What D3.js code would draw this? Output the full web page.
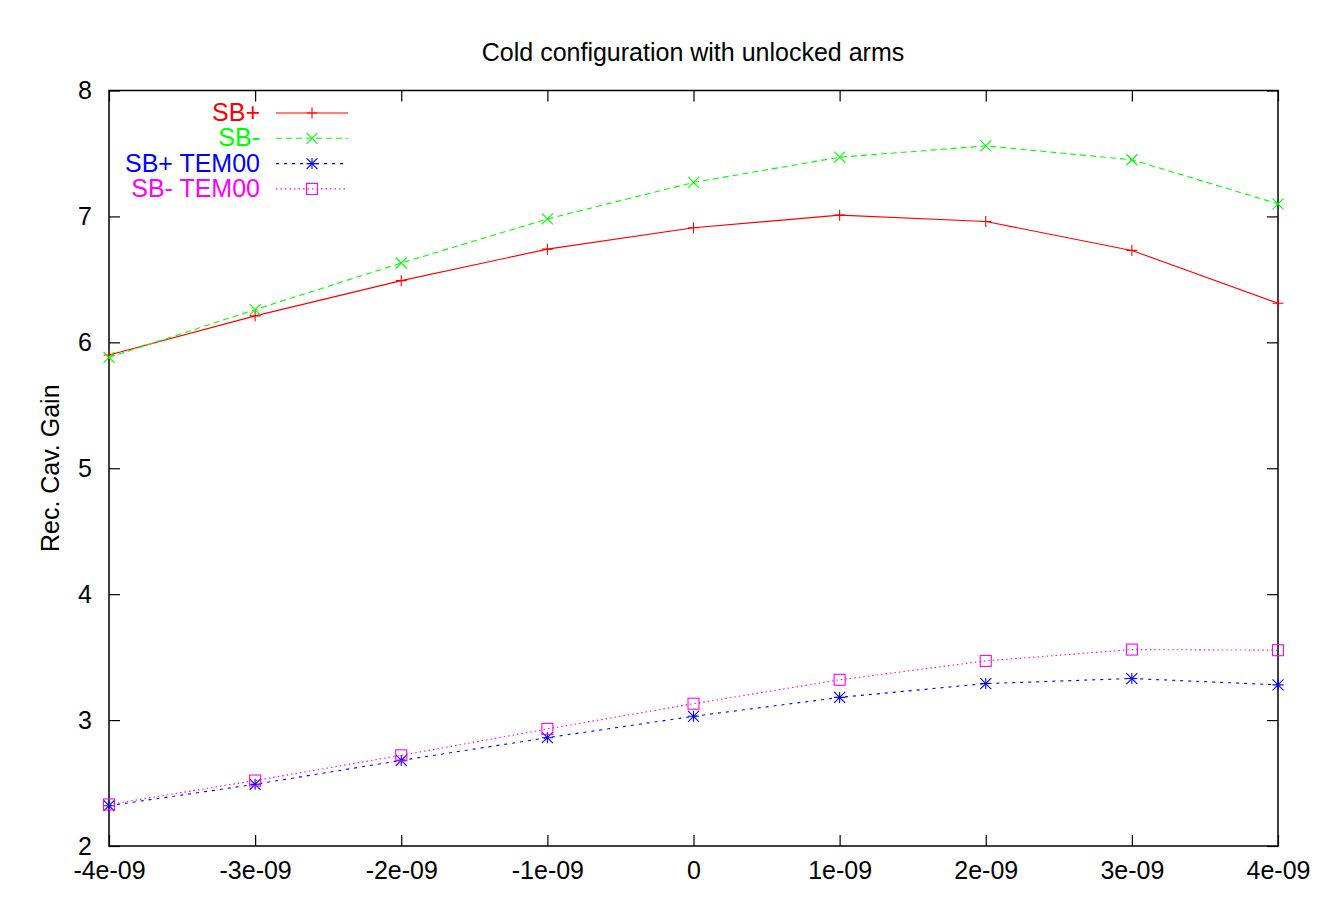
<!DOCTYPE html>
<html>
<head>
<meta charset="utf-8">
<script src="https://cdn.jsdelivr.net/npm/d3@7"></script>
<style>
  body { margin: 0; background: #fff; }
  text { font-family: "Liberation Sans", Arial, sans-serif; }
</style>
</head>
<body>
<svg id="chart"></svg>
<script>
const xValues = [-4e-9, -3e-9, -2e-9, -1e-9, 0, 1e-9, 2e-9, 3e-9, 4e-9];
const sbPlus = [5.90, 6.21, 6.49, 6.74, 6.91, 7.01, 6.96, 6.73, 6.31];
const sbMinus = [5.88, 6.26, 6.63, 6.98, 7.27, 7.47, 7.56, 7.45, 7.10];
const sbPlusTem = [2.32, 2.49, 2.68, 2.86, 3.03, 3.18, 3.29, 3.33, 3.28];
const sbMinusTem = [2.33, 2.52, 2.72, 2.93, 3.13, 3.32, 3.47, 3.56, 3.555];
const xTicks = [-4e-9, -3e-9, -2e-9, -1e-9, 0, 1e-9, 2e-9, 3e-9, 4e-9];
const xTickLabels = ["-4e-09", "-3e-09", "-2e-09", "-1e-09", "0", "1e-09", "2e-09", "3e-09", "4e-09"];
const yTicks = [2, 3, 4, 5, 6, 7, 8];

const series = [
  { name: "SB+", values: sbPlus, color: "#ff0000", dash: null, marker: "plus" },
  { name: "SB-", values: sbMinus, color: "#00ff00", dash: "6,4", marker: "cross" },
  { name: "SB+ TEM00", values: sbPlusTem, color: "#0000ff", dash: "3,5", marker: "star" },
  { name: "SB- TEM00", values: sbMinusTem, color: "#ff00ff", dash: "1.5,3", marker: "square" }
];

const width = 1323, height = 902;
const margin = { top: 90.5, right: 45, bottom: 56, left: 109 };
const innerW = width - margin.left - margin.right;
const innerH = height - margin.top - margin.bottom;
const fontSize = 25;

const svg = d3.select("#chart").attr("width", width).attr("height", height);

const x = d3.scaleLinear().domain([-4e-9, 4e-9]).range([margin.left, margin.left + innerW]);
const y = d3.scaleLinear().domain([2, 8]).range([margin.top + innerH, margin.top]);

// title
svg.append("text")
  .attr("x", 693).attr("y", 61)
  .attr("text-anchor", "middle")
  .attr("font-size", fontSize)
  .text("Cold configuration with unlocked arms");

// y label
svg.append("text")
  .attr("transform", `translate(59, ${y(5)}) rotate(-90)`)
  .attr("text-anchor", "middle")
  .attr("font-size", fontSize)
  .text("Rec. Cav. Gain");

const tickLen = 11;

// axes (ticks drawn inward, mirrored)
const bottomAxis = svg.append("g")
  .attr("transform", `translate(0, ${margin.top + innerH})`)
  .call(d3.axisBottom(x).tickValues(xTicks).tickSize(-tickLen).tickPadding(15)
    .tickFormat((d, i) => xTickLabels[i]));
const topAxis = svg.append("g")
  .attr("transform", `translate(0, ${margin.top})`)
  .call(d3.axisTop(x).tickValues(xTicks).tickSize(-tickLen).tickFormat(""));
const leftAxis = svg.append("g")
  .attr("transform", `translate(${margin.left}, 0)`)
  .call(d3.axisLeft(y).tickValues(yTicks).tickSize(-tickLen).tickPadding(17)
    .tickFormat(d3.format("d")));
const rightAxis = svg.append("g")
  .attr("transform", `translate(${margin.left + innerW}, 0)`)
  .call(d3.axisRight(y).tickValues(yTicks).tickSize(-tickLen).tickFormat(""));

[bottomAxis, topAxis, leftAxis, rightAxis].forEach(a => {
  a.select(".domain").remove();
  a.attr("font-size", fontSize).attr("font-family", "'Liberation Sans', Arial, sans-serif");
  a.selectAll("line").attr("stroke", "#000").attr("stroke-width", 1.2);
  a.selectAll("text").attr("fill", "#000");
});

// frame
svg.append("rect")
  .attr("x", margin.left).attr("y", margin.top)
  .attr("width", innerW).attr("height", innerH)
  .attr("fill", "none").attr("stroke", "#000").attr("stroke-width", 1.5);

function drawMarker(g, type, cx, cy, color) {
  const s = 5.5;
  if (type === "plus" || type === "star") {
    g.append("path").attr("d", `M${cx - s},${cy}H${cx + s}M${cx},${cy - s}V${cy + s}`)
      .attr("stroke", color).attr("stroke-width", 1.1).attr("fill", "none");
  }
  if (type === "cross" || type === "star") {
    g.append("path").attr("d", `M${cx - s},${cy - s}L${cx + s},${cy + s}M${cx - s},${cy + s}L${cx + s},${cy - s}`)
      .attr("stroke", color).attr("stroke-width", 1.1).attr("fill", "none");
  }
  if (type === "square") {
    g.append("rect").attr("x", cx - 5.5).attr("y", cy - 5.5).attr("width", 11).attr("height", 11)
      .attr("stroke", color).attr("stroke-width", 1.1).attr("fill", "none");
  }
}

const line = d3.line().x(d => x(d[0])).y(d => y(d[1]));

series.forEach(s => {
  const pts = xValues.map((xv, i) => [xv, s.values[i]]);
  const g = svg.append("g");
  g.append("path")
    .datum(pts)
    .attr("d", line)
    .attr("fill", "none")
    .attr("stroke", s.color)
    .attr("stroke-width", 1.1)
    .attr("stroke-dasharray", s.dash);
  pts.forEach(p => drawMarker(g, s.marker, x(p[0]), y(p[1]), s.color));
});

// legend
const legend = svg.append("g");
series.forEach((s, i) => {
  const ly = 113 + i * 25.3;
  legend.append("text")
    .attr("x", 260).attr("y", ly + 8)
    .attr("text-anchor", "end")
    .attr("font-size", fontSize)
    .attr("fill", s.color)
    .text(s.name);
  legend.append("line")
    .attr("x1", 276).attr("x2", 348).attr("y1", ly).attr("y2", ly)
    .attr("stroke", s.color).attr("stroke-width", 1.1)
    .attr("stroke-dasharray", s.dash);
  drawMarker(legend, s.marker, 312, ly, s.color);
});
</script>
</body>
</html>
